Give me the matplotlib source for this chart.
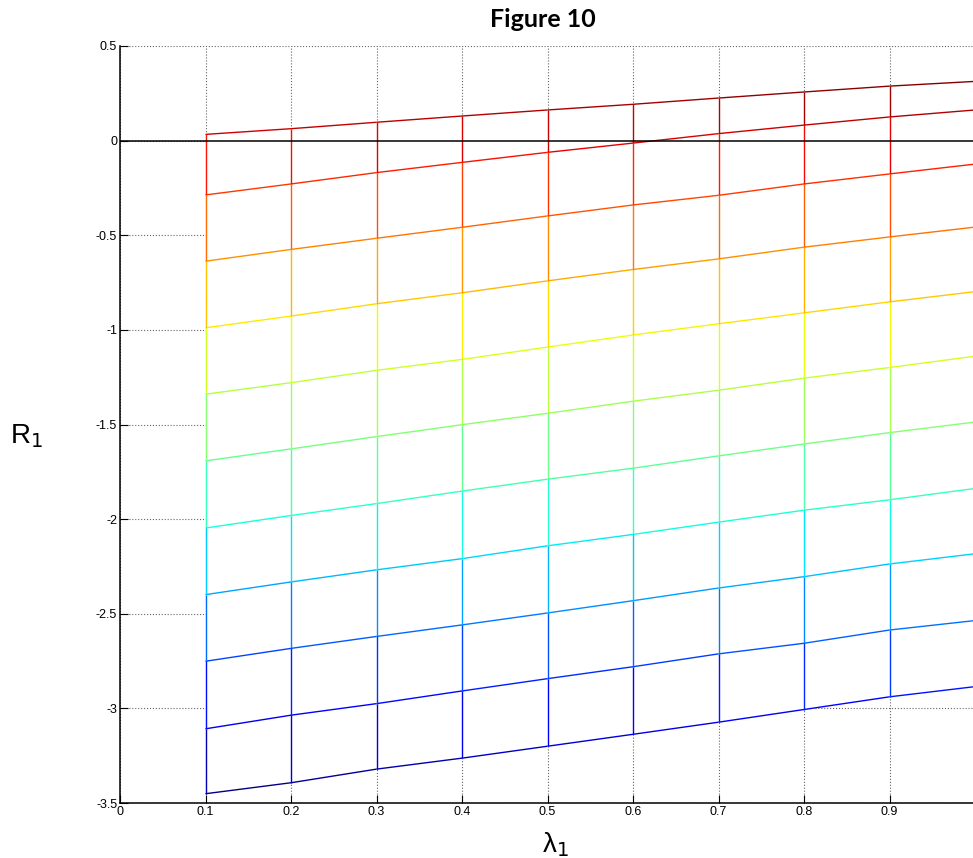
"""
Figure 10: mesh of R1 against lambda1, seen side-on (MATLAB-style mesh).
"""

import numpy as np
import matplotlib
matplotlib.use('Agg')
import matplotlib.pyplot as plt
from matplotlib.collections import LineCollection
from matplotlib.colors import Normalize

# lambda_1 sample points of the mesh
lam = [0.1, 0.2, 0.3, 0.4, 0.5, 0.6, 0.7, 0.8, 0.9, 1.0]

# R_1 values, one mesh row per list
row01 = [0.033, 0.063, 0.097, 0.130, 0.162, 0.192, 0.225, 0.257, 0.288, 0.313]
row02 = [-0.287, -0.229, -0.169, -0.115, -0.062, -0.013, 0.037, 0.082, 0.125, 0.162]
row03 = [-0.637, -0.575, -0.516, -0.458, -0.398, -0.340, -0.289, -0.229, -0.176, -0.124]
row04 = [-0.989, -0.927, -0.862, -0.804, -0.741, -0.681, -0.625, -0.563, -0.509, -0.457]
row05 = [-1.340, -1.279, -1.214, -1.156, -1.091, -1.027, -0.968, -0.910, -0.852, -0.798]
row06 = [-1.692, -1.629, -1.564, -1.501, -1.441, -1.377, -1.319, -1.255, -1.199, -1.139]
row07 = [-2.047, -1.981, -1.918, -1.852, -1.789, -1.731, -1.666, -1.603, -1.543, -1.487]
row08 = [-2.399, -2.332, -2.268, -2.209, -2.141, -2.081, -2.016, -1.953, -1.898, -1.838]
row09 = [-2.751, -2.683, -2.620, -2.559, -2.496, -2.431, -2.364, -2.304, -2.237, -2.183]
row10 = [-3.108, -3.036, -2.975, -2.908, -2.843, -2.780, -2.712, -2.656, -2.586, -2.536]
row11 = [-3.451, -3.393, -3.321, -3.263, -3.200, -3.137, -3.073, -3.006, -2.939, -2.885]

# axis ticks
x_ticks = [0, 0.1, 0.2, 0.3, 0.4, 0.5, 0.6, 0.7, 0.8, 0.9]
x_tick_labels = ['0', '0.1', '0.2', '0.3', '0.4', '0.5', '0.6', '0.7', '0.8', '0.9']
y_ticks = [0.5, 0, -0.5, -1, -1.5, -2, -2.5, -3, -3.5]
y_tick_labels = ['0.5', '0', '-0.5', '-1', '-1.5', '-2', '-2.5', '-3', '-3.5']

plt.rcParams['font.family'] = ['Liberation Sans', 'DejaVu Sans']

R = np.array([row01, row02, row03, row04, row05, row06,
              row07, row08, row09, row10, row11])
x = np.array(lam)

fig = plt.figure(figsize=(9.73, 8.58), dpi=100)
fig.patch.set_facecolor('white')
# the original is cropped on the right, so the axes runs slightly past the edge
ax = fig.add_axes([120 / 973, 55 / 858, 855 / 973, 757 / 858])

cmap = plt.get_cmap('jet')
norm = Normalize(R.min(), R.max())

# mesh edges: along lambda (rows) and across rows (columns)
segs, vals = [], []
for i in range(R.shape[0]):
    for j in range(R.shape[1] - 1):
        segs.append([(x[j], R[i, j]), (x[j + 1], R[i, j + 1])])
        vals.append(0.5 * (R[i, j] + R[i, j + 1]))
for j in range(R.shape[1]):
    for i in range(R.shape[0] - 1):
        segs.append([(x[j], R[i, j]), (x[j], R[i + 1, j])])
        vals.append(0.5 * (R[i, j] + R[i + 1, j]))

# white mesh faces hide the grid behind the surface
ax.fill_between(x, R[-1], R[0], color='white', linewidth=0, zorder=1.5)
lc = LineCollection(segs, colors=cmap(norm(np.array(vals))), linewidths=1.0, zorder=3)
ax.add_collection(lc)

ax.axhline(0, color='black', linewidth=1.1, zorder=4)

ax.set_xlim(0, 1)
ax.set_ylim(-3.5, 0.5)
ax.set_xticks(x_ticks)
ax.set_xticklabels(x_tick_labels)
ax.set_yticks(y_ticks)
ax.set_yticklabels(y_tick_labels)
ax.tick_params(direction='in', length=6, width=0.8, labelsize=9, pad=2,
               top=False, right=False)

ax.set_axisbelow(True)
ax.grid(True, linestyle=':', color='0.4', linewidth=0.8)
for side in ('top', 'right'):
    ax.spines[side].set_visible(False)
for side in ('left', 'bottom'):
    ax.spines[side].set_linewidth(1.1)

fig.text(543 / 973, 1 - 27 / 858, 'Figure 10', ha='center', va='baseline',
         fontsize=18, fontweight='bold', family=['Lato', 'DejaVu Sans'])
fig.text(10 / 973, 1 - 443 / 858, 'R$_1$', ha='left', va='baseline', fontsize=20)
fig.text(542 / 973, 1 - 852 / 858, 'λ$_1$', ha='left', va='baseline', fontsize=20)

fig.savefig('out.png', dpi=100, facecolor='white')
